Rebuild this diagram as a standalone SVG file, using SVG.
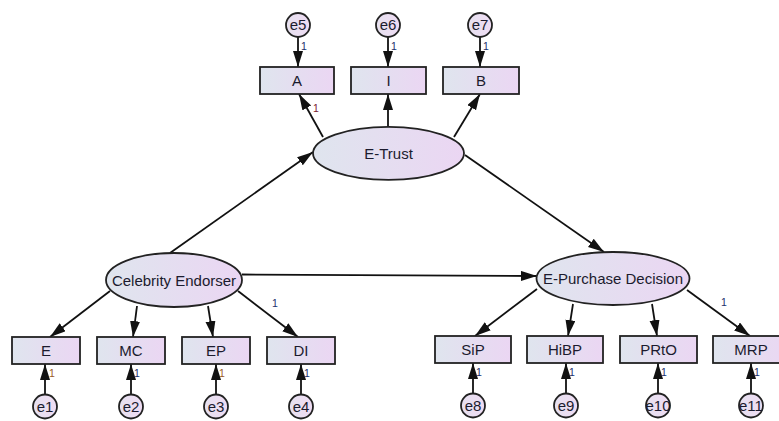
<svg xmlns="http://www.w3.org/2000/svg" width="779" height="421" viewBox="0 0 779 421">
<defs>
<linearGradient id="g" x1="0" y1="0" x2="1" y2="0">
<stop offset="0" stop-color="#dfe5ee"/>
<stop offset="1" stop-color="#ebd6f3"/>
</linearGradient>
<linearGradient id="gc" x1="0" y1="0" x2="1" y2="0">
<stop offset="0" stop-color="#e6e1f0"/>
<stop offset="1" stop-color="#efdcf3"/>
</linearGradient>
<marker id="ah" markerUnits="userSpaceOnUse" markerWidth="17" markerHeight="11" refX="16" refY="5" orient="auto">
<path d="M0,0 L16,5 L0,10 z" fill="#111"/>
</marker>
</defs>
<style>
.box{fill:url(#g);stroke:#222;stroke-width:1.8}
.ell{fill:url(#g);stroke:#222;stroke-width:1.8}
.err{fill:url(#gc);stroke:#222;stroke-width:1.8}
.t{font-family:"Liberation Sans",Arial,sans-serif;font-size:15px;fill:#1b1b2e;text-anchor:middle}
.lb{font-family:"Liberation Sans",Arial,sans-serif;font-size:10.5px;fill:#1c2f6b}
.lbo{fill:#9a5b1e}
.lbr{fill:#7a2030}
.c{stroke:#111;stroke-width:1.8;fill:none;marker-end:url(#ah)}
</style>
<rect width="779" height="421" fill="#ffffff"/>
<g id="connectors">
<line class="c" x1="298" y1="37" x2="298" y2="67"/>
<line class="c" x1="388" y1="37" x2="388" y2="67"/>
<line class="c" x1="480" y1="37" x2="480" y2="67"/>
<line class="c" x1="323" y1="137" x2="299" y2="94"/>
<line class="c" x1="388" y1="127" x2="388" y2="94"/>
<line class="c" x1="454" y1="137" x2="480" y2="94"/>
<line class="c" x1="170" y1="253" x2="313" y2="152"/>
<line class="c" x1="465" y1="155" x2="604" y2="252"/>
<line class="c" x1="242" y1="274.5" x2="537" y2="276"/>
<line class="c" x1="110" y1="291" x2="50" y2="337"/>
<line class="c" x1="137" y1="306" x2="133" y2="337"/>
<line class="c" x1="208" y1="306" x2="213" y2="337"/>
<line class="c" x1="238" y1="291" x2="298" y2="337"/>
<line class="c" x1="537" y1="289" x2="475" y2="336"/>
<line class="c" x1="573" y1="304" x2="568" y2="336"/>
<line class="c" x1="652" y1="304" x2="657" y2="336"/>
<line class="c" x1="687" y1="290" x2="750" y2="336"/>
<line class="c" x1="45" y1="394" x2="45" y2="364"/>
<line class="c" x1="131" y1="394" x2="131" y2="364"/>
<line class="c" x1="216" y1="394" x2="216" y2="364"/>
<line class="c" x1="301" y1="394" x2="301" y2="364"/>
<line class="c" x1="473" y1="393" x2="473" y2="363"/>
<line class="c" x1="566" y1="393" x2="566" y2="363"/>
<line class="c" x1="658" y1="393" x2="658" y2="363"/>
<line class="c" x1="751" y1="393" x2="751" y2="363"/>
<text class="lb" x="301" y="50">1</text>
<text class="lb" x="391" y="50">1</text>
<text class="lb" x="483" y="50">1</text>
<text class="lb lbr" x="313" y="112">1</text>
<text class="lb" x="272" y="307">1</text>
<text class="lb" x="721" y="306">1</text>
<text class="lb lbo" x="49" y="377">1</text>
<text class="lb" x="134" y="377">1</text>
<text class="lb lbo" x="219" y="377">1</text>
<text class="lb" x="304" y="377">1</text>
<text class="lb" x="476" y="376">1</text>
<text class="lb" x="569" y="376">1</text>
<text class="lb" x="661" y="376">1</text>
<text class="lb" x="754" y="376">1</text>
</g>
<g id="e5"><circle class="err" cx="298" cy="25" r="12"/><text class="t" x="298" y="30.3">e5</text></g>
<g id="e6"><circle class="err" cx="388" cy="25" r="12"/><text class="t" x="388" y="30.3">e6</text></g>
<g id="e7"><circle class="err" cx="480" cy="25" r="12"/><text class="t" x="480" y="30.3">e7</text></g>
<g id="A"><rect class="box" x="260" y="67" width="74" height="27"/><text class="t" x="297" y="85.8">A</text></g>
<g id="I"><rect class="box" x="351" y="67" width="75" height="27"/><text class="t" x="388.5" y="85.8">I</text></g>
<g id="B"><rect class="box" x="443" y="67" width="76" height="27"/><text class="t" x="481" y="85.8">B</text></g>
<g id="E-Trust"><ellipse class="ell" cx="388.5" cy="153.3" rx="75.5" ry="26.5"/><text class="t" x="388.5" y="158.6">E-Trust</text></g>
<g id="Celebrity-Endorser"><ellipse class="ell" cx="174" cy="280" rx="68" ry="27"/><text class="t" x="174" y="285.5">Celebrity Endorser</text></g>
<g id="E-Purchase-Decision"><ellipse class="ell" cx="613" cy="278.5" rx="76.5" ry="26.5"/><text class="t" x="613" y="284">E-Purchase Decision</text></g>
<g id="E"><rect class="box" x="12" y="337" width="68" height="27"/><text class="t" x="46" y="355.8">E</text></g>
<g id="MC"><rect class="box" x="97" y="337" width="68" height="27"/><text class="t" x="131" y="355.8">MC</text></g>
<g id="EP"><rect class="box" x="182" y="337" width="68" height="27"/><text class="t" x="216" y="355.8">EP</text></g>
<g id="DI"><rect class="box" x="267" y="337" width="68" height="27"/><text class="t" x="301" y="355.8">DI</text></g>
<g id="SiP"><rect class="box" x="435" y="336" width="76" height="27"/><text class="t" x="473" y="354.8">SiP</text></g>
<g id="HiBP"><rect class="box" x="527" y="336" width="76" height="27"/><text class="t" x="565" y="354.8">HiBP</text></g>
<g id="PRtO"><rect class="box" x="620" y="336" width="77" height="27"/><text class="t" x="658.5" y="354.8">PRtO</text></g>
<g id="MRP"><rect class="box" x="713" y="336" width="77" height="27"/><text class="t" x="751" y="354.8">MRP</text></g>
<g id="e1"><circle class="err" cx="45" cy="406.5" r="12"/><text class="t" x="45" y="411.8">e1</text></g>
<g id="e2"><circle class="err" cx="131" cy="406.5" r="12"/><text class="t" x="131" y="411.8">e2</text></g>
<g id="e3"><circle class="err" cx="216" cy="406.5" r="12"/><text class="t" x="216" y="411.8">e3</text></g>
<g id="e4"><circle class="err" cx="301" cy="406.5" r="12"/><text class="t" x="301" y="411.8">e4</text></g>
<g id="e8"><circle class="err" cx="473" cy="405.5" r="12"/><text class="t" x="473" y="410.8">e8</text></g>
<g id="e9"><circle class="err" cx="566" cy="405.5" r="12"/><text class="t" x="566" y="410.8">e9</text></g>
<g id="e10"><circle class="err" cx="658" cy="405.5" r="12"/><text class="t" x="658" y="410.8">e10</text></g>
<g id="e11"><circle class="err" cx="751" cy="405.5" r="12"/><text class="t" x="751" y="410.8">e11</text></g>
</svg>
